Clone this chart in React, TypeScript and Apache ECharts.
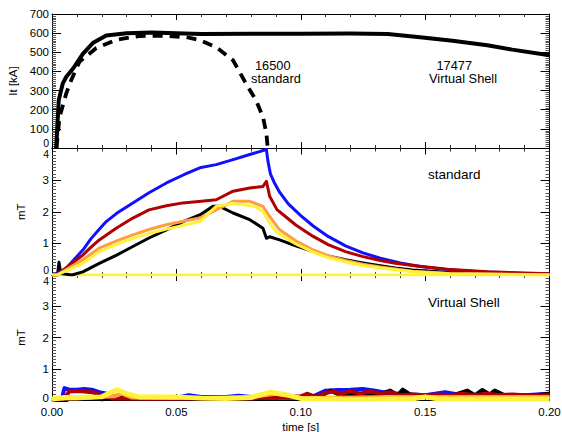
import React, { useEffect, useRef } from "react";
import * as echarts from "echarts";

// ---------- data ----------
// top panel: plasma current It [kA] vs time [s]
const itVirtualShell: number[][] = [
  [0.0017, 0], [0.0027, 250], [0.0043, 336], [0.0057, 371], [0.0084, 414], [0.0124, 492],
  [0.0164, 548], [0.0218, 588], [0.03, 600], [0.04, 604], [0.05, 600], [0.06, 596],
  [0.08, 597], [0.1, 597], [0.12, 598], [0.135, 596], [0.148, 579], [0.161, 560],
  [0.175, 537], [0.185, 514], [0.2, 484],
];
const itStandard: number[][] = [
  [0.0018, 0], [0.003, 160], [0.0057, 284], [0.0077, 354], [0.011, 450], [0.0178, 522],
  [0.0258, 565], [0.035, 585], [0.045, 586], [0.054, 579], [0.059, 565], [0.066, 527],
  [0.0728, 458], [0.078, 336], [0.082, 250], [0.0848, 163], [0.0862, 76], [0.0867, 0],
];

// middle panel: standard, mT
const stdBlack: number[][] = [
  [0, 0], [0.0022, 0], [0.0028, 0.4], [0.0035, 0.05], [0.008, 0], [0.0124, 0.1], [0.019, 0.37],
  [0.026, 0.63], [0.0325, 0.9], [0.039, 1.17], [0.046, 1.43], [0.0527, 1.69], [0.0594, 1.9],
  [0.0647, 2.17], [0.0674, 2.17], [0.0728, 1.96], [0.0795, 1.75], [0.0848, 1.48], [0.0862, 1.16],
  [0.0875, 1.21], [0.0915, 1.11], [0.098, 0.92], [0.105, 0.74], [0.111, 0.6], [0.118, 0.48],
  [0.125, 0.38], [0.132, 0.29], [0.138, 0.22], [0.145, 0.16], [0.16, 0.08], [0.18, 0.04], [0.2, 0.02],
];
const stdBlue: number[][] = [
  [0, 0], [0.001, 0], [0.0057, 0.21], [0.009, 0.5], [0.0124, 0.79], [0.0157, 1.15], [0.019, 1.45],
  [0.0218, 1.69], [0.026, 1.95], [0.0325, 2.28], [0.039, 2.6], [0.046, 2.91], [0.053, 3.17],
  [0.0594, 3.39], [0.066, 3.49], [0.0728, 3.65], [0.0795, 3.81], [0.0862, 3.97], [0.0868, 3.6],
  [0.0878, 3.2], [0.0895, 2.9], [0.0915, 2.62], [0.095, 2.25], [0.1, 1.88], [0.105, 1.55],
  [0.111, 1.22], [0.118, 0.92], [0.125, 0.7], [0.132, 0.53], [0.14, 0.38], [0.148, 0.27],
  [0.159, 0.17], [0.172, 0.1], [0.19, 0.05], [0.2, 0.03],
];
const stdRed: number[][] = [
  [0, 0], [0.002, 0], [0.0124, 0.63], [0.0157, 0.88], [0.019, 1.11], [0.0258, 1.48], [0.0325, 1.8],
  [0.039, 2.06], [0.046, 2.19], [0.0527, 2.28], [0.06, 2.33], [0.066, 2.38], [0.0728, 2.65],
  [0.0795, 2.75], [0.0848, 2.8], [0.0862, 2.96], [0.0875, 2.49], [0.0905, 2.06], [0.0915, 2.0],
  [0.098, 1.58], [0.105, 1.22], [0.111, 0.96], [0.118, 0.74], [0.125, 0.58], [0.132, 0.46],
  [0.138, 0.37], [0.145, 0.3], [0.159, 0.18], [0.175, 0.1], [0.2, 0.04],
];
const stdOrange: number[][] = [
  [0, 0], [0.002, 0], [0.0124, 0.48], [0.019, 0.85], [0.026, 1.08], [0.0325, 1.27], [0.039, 1.44],
  [0.046, 1.59], [0.0527, 1.7], [0.0594, 1.8], [0.066, 2.06], [0.0728, 2.33], [0.0795, 2.33],
  [0.0848, 2.17], [0.0875, 1.85], [0.0905, 1.53], [0.0915, 1.43], [0.098, 1.08], [0.105, 0.79],
  [0.111, 0.61], [0.118, 0.46], [0.125, 0.34], [0.132, 0.25], [0.145, 0.12], [0.16, 0.05], [0.2, 0.01],
];
const stdYellow: number[][] = [
  [0, 0], [0.002, 0], [0.0124, 0.37], [0.019, 0.74], [0.026, 0.97], [0.0325, 1.16], [0.039, 1.31],
  [0.046, 1.45], [0.0527, 1.57], [0.0594, 1.69], [0.066, 2.17], [0.0728, 2.27], [0.0815, 2.17],
  [0.0848, 2.01], [0.0875, 1.64], [0.0905, 1.33], [0.0915, 1.3], [0.098, 0.98], [0.105, 0.72],
  [0.111, 0.55], [0.118, 0.41], [0.125, 0.3], [0.132, 0.22], [0.145, 0.1], [0.16, 0.04], [0.2, 0],
];
const stdZero: number[][] = [[0, 0], [0.2, 0]];

// bottom panel: Virtual Shell, mT
const vsBlue: number[][] = [
  [0, 0], [0.004, 0.05], [0.005, 0.38], [0.007, 0.33], [0.01, 0.33], [0.013, 0.35], [0.016, 0.33],
  [0.019, 0.25], [0.022, 0.2], [0.025, 0.1], [0.03, 0.08], [0.04, 0.08], [0.05, 0.07], [0.055, 0.15],
  [0.06, 0.1], [0.07, 0.1], [0.075, 0.14], [0.08, 0.1], [0.09, 0.08], [0.1, 0.08], [0.105, 0.12],
  [0.11, 0.3], [0.115, 0.32], [0.12, 0.33], [0.125, 0.35], [0.13, 0.3], [0.135, 0.22], [0.14, 0.2],
  [0.15, 0.15], [0.158, 0.25], [0.165, 0.15], [0.18, 0.15], [0.19, 0.15], [0.2, 0.2],
];
const vsBlack: number[][] = [
  [0, 0], [0.006, 0], [0.008, 0.08], [0.012, 0.1], [0.016, 0.07], [0.02, 0.02], [0.03, 0.12],
  [0.033, 0.05], [0.045, 0.1], [0.05, 0.08], [0.06, 0.06], [0.07, 0.06], [0.08, 0.06], [0.09, 0.08],
  [0.1, 0.08], [0.108, 0.12], [0.112, 0.3], [0.116, 0.15], [0.12, 0.2], [0.125, 0.15], [0.13, 0.15],
  [0.136, 0.3], [0.139, 0.15], [0.141, 0.33], [0.145, 0.12], [0.15, 0.12], [0.16, 0.12], [0.167, 0.3],
  [0.17, 0.15], [0.173, 0.32], [0.176, 0.18], [0.178, 0.3], [0.182, 0.15], [0.19, 0.12], [0.2, 0.2],
];
const vsRed: number[][] = [
  [0, 0], [0.005, 0.05], [0.007, 0.28], [0.012, 0.28], [0.016, 0.25], [0.02, 0.15], [0.025, 0.05],
  [0.03, 0.05], [0.04, 0.04], [0.06, 0.05], [0.08, 0.05], [0.095, 0.1], [0.1, 0.12], [0.1025, 0.2],
  [0.106, 0.1], [0.11, 0.22], [0.113, 0.28], [0.116, 0.2], [0.12, 0.28], [0.124, 0.2], [0.128, 0.28],
  [0.132, 0.2], [0.136, 0.25], [0.14, 0.15], [0.145, 0.18], [0.15, 0.15], [0.155, 0.18], [0.16, 0.15],
  [0.165, 0.2], [0.17, 0.15], [0.175, 0.2], [0.18, 0.15], [0.185, 0.18], [0.19, 0.15], [0.195, 0.15],
  [0.2, 0.15],
];
const vsOrange: number[][] = [
  [0, 0.02], [0.005, 0.05], [0.01, 0.05], [0.02, 0.1], [0.025, 0.12], [0.028, 0.2], [0.032, 0.08],
  [0.05, 0.06], [0.07, 0.08], [0.08, 0.1], [0.09, 0.2], [0.095, 0.15], [0.1, 0.06], [0.12, 0.08],
  [0.14, 0.1], [0.16, 0.1], [0.18, 0.1], [0.2, 0.1],
];
const vsYellow: number[][] = [
  [0, 0.03], [0.005, 0.08], [0.01, 0.08], [0.02, 0.1], [0.026, 0.33], [0.03, 0.2], [0.035, 0.1],
  [0.05, 0.1], [0.06, 0.06], [0.07, 0.05], [0.08, 0.08], [0.088, 0.25], [0.095, 0.15], [0.1, 0.05],
  [0.12, 0.02], [0.145, 0.04], [0.15, 0.1], [0.155, 0.04], [0.17, 0.03], [0.2, 0.03],
];

const xTicks = { min: 0, max: 0.2, interval: 0.05 };
const yTop = { min: 0, max: 700, interval: 100 };
const yMT = { min: 0, max: 4, interval: 1 };

const FONT = "'Liberation Sans', Arial, Helvetica, sans-serif";
const C_BLACK = "#000000";
const C_BLUE = "#1010ff";
const C_RED = "#b00000";
const C_ORANGE = "#ff9d3f";
const C_YELLOW = "#fff23c";

export default function App() {
  const ref = useRef<HTMLDivElement>(null);

  useEffect(() => {
    if (!ref.current) return;
    const chart = echarts.init(ref.current, undefined, { renderer: "svg" });

    const grids = [
      { left: 52, right: 12.5, top: 14, height: 134 },
      { left: 52, right: 12.5, top: 148.5, height: 126.5 },
      { left: 52, right: 12.5, top: 275, height: 125 },
    ];
    // vertical nudges (px) of end labels that sit on a shared panel border
    const minShift = [5.5, 5.5, 2];
    const maxShift = [0, 5.5, 5.5];
    const minSize = [10.5, 10.5, 11.5];
    const maxSize = [11.5, 10.5, 10.5];

    const xAxes: any[] = [];
    const yAxes: any[] = [];
    grids.forEach((_, i) => {
      ["bottom", "top"].forEach((pos) => {
        xAxes.push({
          type: "value",
          gridIndex: i,
          position: pos,
          ...xTicks,
          axisLine: { show: true, onZero: false, lineStyle: { color: C_BLACK, width: 1 } },
          axisTick: { show: true, inside: true, length: 6, lineStyle: { color: C_BLACK } },
          minorTick: { show: true, splitNumber: 5, length: 3, lineStyle: { color: "#333" } },
          splitLine: { show: false },
          axisLabel: {
            show: i === 2 && pos === "bottom",
            formatter: (v: number) => v.toFixed(2),
            color: C_BLACK,
            fontFamily: FONT,
            fontSize: 11.5,
            margin: 6,
          },
          name: i === 2 && pos === "bottom" ? "time [s]" : "",
          nameLocation: "middle",
          nameGap: 21,
          nameTextStyle: { color: C_BLACK, fontFamily: FONT, fontSize: 11.5 },
        });
      });
      ["left", "right"].forEach((pos) => {
        const rng = i === 0 ? yTop : yMT;
        yAxes.push({
          type: "value",
          gridIndex: i,
          position: pos,
          ...rng,
          axisLine: { show: true, onZero: false, lineStyle: { color: C_BLACK, width: 1 } },
          axisTick: { show: true, inside: true, length: 9, lineStyle: { color: C_BLACK } },
          minorTick: { show: true, splitNumber: 10, length: 4, lineStyle: { color: "#555" } },
          splitLine: { show: false },
          axisLabel: {
            show: pos === "left",
            color: C_BLACK,
            fontFamily: FONT,
            fontSize: 11.5,
            margin: 3,
            formatter: (v: number) => {
              if (v === rng.min) return `{up|${v}}`;
              if (v === rng.max) return `{dn|${v}}`;
              return `${v}`;
            },
            rich: {
              up: {
                padding: [0, 0, minShift[i] * 2, 0],
                fontFamily: FONT,
                fontSize: minSize[i],
                color: C_BLACK,
              },
              dn: {
                padding: [maxShift[i] * 2, 0, 0, 0],
                fontFamily: FONT,
                fontSize: maxSize[i],
                color: C_BLACK,
              },
            },
          },
          name: pos === "left" ? (i === 0 ? "It [kA]" : "mT") : "",
          nameLocation: "middle",
          nameGap: 25,
          nameTextStyle: { color: C_BLACK, fontFamily: FONT, fontSize: 11.5 },
        });
      });
    });

    const line = (data: number[][], color: string, width: number, g: number, extra: any = {}) => ({
      type: "line",
      xAxisIndex: g * 2,
      yAxisIndex: g * 2,
      data,
      showSymbol: false,
      symbol: "none",
      clip: true,
      silent: true,
      lineStyle: { color, width, cap: "butt", join: "round", ...(extra.lineStyle || {}) },
      z: extra.z ?? 2,
    });

    const series: any[] = [
      line(itStandard, C_BLACK, 3.8, 0, { lineStyle: { type: [10, 7] } }),
      line(itVirtualShell, C_BLACK, 4, 0),
      line(stdZero, C_YELLOW, 3, 1),
      line(stdBlack, C_BLACK, 3, 1),
      line(stdBlue, C_BLUE, 3, 1),
      line(stdRed, C_RED, 3, 1),
      line(stdOrange, C_ORANGE, 3, 1),
      line(stdYellow, C_YELLOW, 3, 1),
      line(vsBlue, C_BLUE, 4, 2),
      line(vsBlack, C_BLACK, 4, 2),
      line(vsRed, C_RED, 4, 2),
      line(vsOrange, C_ORANGE, 4, 2),
      line(vsYellow, C_YELLOW, 5, 2),
    ];

    const txt = (text: string, x: number, y: number, size = 13.5) => ({
      type: "text",
      x,
      y,
      silent: true,
      style: {
        text,
        fill: C_BLACK,
        font: `${size}px ${FONT}`,
        align: "left",
        verticalAlign: "middle",
      },
      z: 10,
    });

    chart.setOption({
      animation: false,
      backgroundColor: "#ffffff",
      grid: grids.map((g) => ({ ...g, containLabel: false, outerBoundsMode: "none" })),
      xAxis: xAxes,
      yAxis: yAxes,
      series,
      graphic: [
        txt("16500", 255, 65, 12.8),
        txt("standard", 251, 78.5, 12.8),
        txt("17477", 436.5, 65, 12.8),
        txt("Virtual Shell", 429, 78.5, 12.8),
        txt("standard", 428, 174.5),
        txt("Virtual Shell", 428, 302),
      ],
    });

    return () => chart.dispose();
  }, []);

  return (
    <div
      ref={ref}
      style={{ position: "fixed", left: 0, top: 0, width: 562, height: 432, background: "#fff" }}
    />
  );
}
